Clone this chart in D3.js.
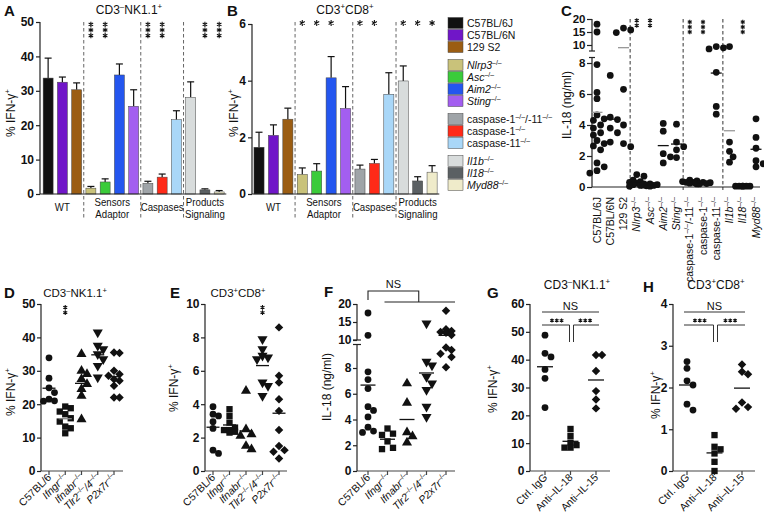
<!DOCTYPE html>
<html><head><meta charset="utf-8">
<script src="https://cdn.jsdelivr.net/npm/d3@7"></script>
<style>body{margin:0;background:#fff}svg{display:block}text{font-family:"Liberation Sans",Arial,Helvetica,sans-serif}</style>
</head><body><svg id="c" width="764" height="522"></svg>
<script>
// ---------------- DATA ----------------
const strainLabels = ["C57BL/6J","C57BL/6N","129 S2","_Nlrp3_^–/–^","_Asc_^–/–^","_Aim2_^–/–^","_Sting_^–/–^","caspase-1^–/–^/-11^–/–^","caspase-1^–/–^","caspase-11^–/–^","_Il1b_^–/–^","_Il18_^–/–^","_Myd88_^–/–^"];
const strainColors = ["#111111","#7016c8","#9b5d12","#c9c27a","#3acb3a","#2456ef","#a35ef0","#9fa4a8","#ff2a18","#a9d7f8","#d8dcdc","#5b6063","#efebca"];
const groupLabels = ["WT","Sensors|Adaptor","Caspases","Products|Signaling"];
const groupSizes = [3,4,3,3];
const nkMean = [33.7,32.5,30.3,1.7,3.5,34.6,25.5,3.1,4.9,21.6,28.1,1.2,0.6];
const nkErr  = [5.8,1.5,2.0,0.5,0.9,3.2,4.8,0.6,0.9,2.6,4.5,0.3,0.4];
const cd8Mean = [1.65,2.07,2.64,0.69,0.81,4.1,3.02,0.88,1.08,3.52,3.99,0.46,0.77];
const cd8Err  = [0.53,0.37,0.39,0.23,0.26,0.75,0.77,0.14,0.14,0.76,0.53,0.15,0.23];
const nkStars = [3,4,7,8,11,12];
const cd8Stars = [3,4,5,7,8,10,11,12];
const ticksA = [0,10,20,30,40,50];
const ticksB = [0,2,4,6];

const il18Strain = [
  [18,15,7.9,6.1,5.7,4.65,4.4,4.3,4.0,3.8,3.5,3.35,3.0,2.8,2.65,2.4,1.55,1.3,1.05,0.9],
  [7.2,4.5,4.35,3.8,3.5,2.9],
  [16.5,15.8,14.8,6.3,4.0,2.8,2.6],
  [0.8,0.7,0.45,0.35,0.3,0.25,0.2,0.15,0.1,0.05],
  [0.2,0.15,0.12,0.1,0.08,0.05],
  [4.1,3.6,2.15,1.95,1.55],
  [4.05,2.9,2.6,2.4,1.9],
  [0.45,0.4,0.35,0.3,0.3,0.25,0.2],
  [0.3,0.28,0.25,0.22,0.2],
  [9.4,8.9,8.5,7.4,5.2,4.7],
  [9.4,2.9,2.3,1.95,1.6],
  [0.05,0.05,0.05,0.05,0.05,0.05],
  [4.4,3.2,2.5,1.7,1.5,1.3]
];
const il18Stars = [[3,2],[4,2],[7,3],[8,3],[11,3]];
const ticksCLow = [0,2,4,6,8], ticksCUp = [10,15,20];

const genoLabels = ["C57BL/6","_Ifngr_^–/–^","_Ifnabr_^–/–^","_Tlr2_^–/–^_/4_^–/–^","_P2x7r_^–/–^"];
const dNK = [
  [33.9,27.8,24.9,23.5,21.5,21,20.9],
  [19.3,18.8,17.8,17,15.8,14.8,13.3,12.8,11.3],
  [35,30,29,27.5,26,24.5,22.5,15.5],
  [41.5,37.5,36.5,35,33.5,31.5,28],
  [35.5,35.3,30,29,28.5,27.5,27,25.5,22,22]
];
const eCD8 = [
  [3.85,3.4,3.3,2.95,2.55,1.25,1.05],
  [3.7,3.3,2.9,2.6,2.45,2.35,2.45,2.3],
  [4.8,2.5,2.2,2.1,1.5,1.3],
  [7.9,7.3,6.9,6.8,6.7,5.3,5.1,4.5],
  [8.6,5.7,5.3,4.3,3.6,2.45,1.5,1.25,1.15,0.75]
];
const fIL18 = [
  [17.5,11.3,7.7,7.1,6.4,5.0,4.7,4.2,3.4,3.1,3.0],
  [3.3,2.9,2.8,2.3,1.8,1.7],
  [6.8,5.3,3.0,2.7,2.2],
  [14.6,8.5,8.2,7.3,6.8,6.3,5.0,4.2],
  [18.1,13,12.5,12.2,12,11.4,9.6,9.4,9.1,8.85,8.05]
];
const ticksD = [0,10,20,30,40,50], ticksE = [0,2,4,6,8,10];
const ticksFLow = [0,2,4,6,8], ticksFUp = [10,15,20];

const abLabels = ["Ctrl. IgG","Anti–IL-18","Anti–IL-15"];
const gNK = [[48.8,42.3,41,36.5,33.3,22.8],[15.1,12.6,10.2,9.3,8.4,8.4],[41.7,41.7,35.9,28.7,25.7,22.5]];
const hCD8 = [[2.62,2.46,2.16,2.06,1.6,1.46],[0.86,0.58,0.52,0.42,0.22,0],[2.55,2.38,2.32,1.64,1.53,1.49]];
const ticksG = [0,10,20,30,40,50,60], ticksH = [0,1,2,3,4];

// ---------------- HELPERS ----------------
const FONT = '"Liberation Sans", Arial, Helvetica, sans-serif';
const svg = d3.select("#c");
const INK = "#111";
const fmt = d3.format("d");

function rich(parent, str, size, o = {}) {
  const t = parent.append("text").attr("font-size", size).attr("fill", o.fill || INK);
  if (o.anchor) t.attr("text-anchor", o.anchor);
  if (o.weight) t.attr("font-weight", o.weight);
  if (o.transform) t.attr("transform", o.transform); else t.attr("x", o.x || 0).attr("y", o.y || 0);
  let it = false, sup = false, dy = 0;
  str.split(/([_^|])/).forEach(p => {
    if (p === "_") { it = !it; return; }
    if (p === "^") { sup = !sup; dy += sup ? -0.38 * size : 0.38 * size; return; }
    if (!p) return;
    const ts = t.append("tspan").text(p);
    if (it) ts.attr("font-style", "italic");
    if (sup) ts.attr("font-size", (size * 0.66).toFixed(2));
    if (dy) { ts.attr("dy", dy.toFixed(2)); dy = 0; }
  });
  return t;
}
function styleAxis(ax, fs) {
  ax.attr("font-family", FONT).attr("font-size", fs);
  ax.select(".domain").remove();
  ax.selectAll(".tick line").attr("stroke", "#222").attr("stroke-width", 1.2);
  ax.selectAll(".tick text").attr("font-weight", "bold").attr("fill", INK);
}
function vline(g, x, y1, y2, col = "#222", w = 1.2) {
  g.append("line").attr("x1", x).attr("x2", x).attr("y1", y1).attr("y2", y2).attr("stroke", col).attr("stroke-width", w);
}
function hline(g, x1, x2, y, col = "#222", w = 1.2) {
  g.append("line").attr("x1", x1).attr("x2", x2).attr("y1", y).attr("y2", y).attr("stroke", col).attr("stroke-width", w);
}
function letter(t, x, y) { svg.append("text").attr("x", x).attr("y", y).attr("font-size", 15).attr("font-weight", "bold").attr("fill", INK).text(t); }
function star(g, cx, cy, r, w = 1.1) {
  let d = "";
  [90, 30, 150].forEach(a => {
    const c = Math.cos(a * Math.PI / 180) * r, s = Math.sin(a * Math.PI / 180) * r;
    d += `M${cx - c},${cy - s}L${cx + c},${cy + s}`;
  });
  g.append("path").attr("d", d).attr("stroke", INK).attr("stroke-width", w).attr("fill", "none");
}
function starsV(g, cx, cy, n, r, gap) { for (let k = 0; k < n; k++) star(g, cx, cy + (k - (n - 1) / 2) * gap, r); }
function starsH(g, cx, cy, n, r, gap) { for (let k = 0; k < n; k++) star(g, cx + (k - (n - 1) / 2) * gap, cy, r); }

function swarm(vals, cx, yf, r, maxK, dx) {
  const placed = [];
  const ks = [0]; for (let k = 1; k <= maxK; k++) ks.push(k, -k);
  vals.slice().sort((a, b) => b - a).forEach(v => {
    const yy = yf(v); let best = cx, bestD = -1;
    for (const k of ks) {
      const xx = cx + k * dx; let md = Infinity;
      placed.forEach(p => { md = Math.min(md, Math.hypot(p.x - xx, p.y - yy)); });
      if (md >= 2 * r) { best = xx; bestD = md; break; }
      if (md > bestD) { bestD = md; best = xx; }
    }
    placed.push({ x: best, y: yy });
  });
  return placed;
}
const SH = {
  circle: { d: d3.symbol(d3.symbolCircle, 36)(), r: "" },
  square: { d: d3.symbol(d3.symbolSquare, 40)(), r: "" },
  tri: { d: d3.symbol(d3.symbolTriangle, 44)(), r: "" },
  inv: { d: d3.symbol(d3.symbolTriangle, 44)(), r: " rotate(180)" },
  diamond: { d: d3.symbol(d3.symbolSquare, 36)(), r: " rotate(45)" }
};

// ---------------- BAR PANELS (A, B) ----------------
function barPanel(o) {
  const g = svg.append("g");
  const n = o.means.length;
  const x = d3.scaleBand().domain(d3.range(n)).range(o.xr).paddingInner(0.3).paddingOuter(0.15);
  const y = d3.scaleLinear().domain(o.yd).range(o.yr);
  const bw = x.bandwidth();
  let idx = 0; const seps = [], centers = [];
  groupSizes.forEach(k => {
    const a = x(idx), b = x(idx + k - 1) + bw; centers.push((a + b) / 2); idx += k;
    if (idx < n) seps.push((b + x(idx)) / 2);
  });
  g.selectAll(".sep").data(seps).join("line").attr("x1", d => d).attr("x2", d => d)
    .attr("y1", 22).attr("y2", 218).attr("stroke", "#666").attr("stroke-width", 1).attr("stroke-dasharray", "3.5,2.5");
  o.means.forEach((m, i) => {
    const cx = x(i) + bw / 2, yt = y(m + o.errs[i]);
    vline(g, cx, y(m), yt, "#111", 1.2);
    hline(g, cx - 3.5, cx + 3.5, yt, "#111", 1.2);
  });
  g.selectAll("rect.bar").data(o.means).join("rect").attr("class", "bar")
    .attr("x", (d, i) => x(i)).attr("width", bw).attr("y", d => y(d)).attr("height", d => y(0) - y(d))
    .attr("fill", (d, i) => strainColors[i]).attr("stroke", "#444").attr("stroke-width", 0.5);
  hline(g, o.axisX, o.xr[1], y(0));
  vline(g, o.axisX, y(0), y(o.yd[1]));
  const ax = g.append("g").attr("transform", `translate(${o.axisX},0)`)
    .call(d3.axisLeft(y).tickValues(o.ticks).tickFormat(fmt).tickSize(4).tickSizeOuter(0).tickPadding(2));
  styleAxis(ax, 12);
  groupLabels.forEach((lab, i) => {
    const lines = lab.split("|");
    lines.forEach((ln, j) => {
      const yy = lines.length === 1 ? 211 : 206 + j * 11.5;
      g.append("text").attr("transform", `translate(${centers[i]},${yy}) scale(0.88,1)`).attr("text-anchor", "middle")
        .attr("font-size", 11).attr("fill", INK).text(ln);
    });
  });
  o.stars.forEach(i => {
    const cx = x(i) + bw / 2;
    if (o.starRot) starsV(g, cx, 30, 3, 2.6, 5.6);
    else star(g, cx, 23, 2.9);
  });
  rich(g, o.title, 12, { x: o.titleX, y: 14, anchor: "middle" });
  rich(g, "% IFN-γ^+^", 12, { transform: `translate(${o.ylabX},113) rotate(-90)`, anchor: "middle" });
}
barPanel({ means: nkMean, errs: nkErr, xr: [41, 226.3], yd: [0, 50], yr: [194, 22], ticks: ticksA, axisX: 40,
  stars: nkStars, starRot: true, title: "CD3^–^NK1.1^+^", titleX: 129, ylabX: 15 });
barPanel({ means: cd8Mean, errs: cd8Err, xr: [251.8, 439.3], yd: [0, 6], yr: [194, 24], ticks: ticksB, axisX: 252,
  stars: cd8Stars, starRot: false, title: "CD3^+^CD8^+^", titleX: 345, ylabX: 238 });
letter("A", 4, 16); letter("B", 227, 16);

// legend
(function () {
  const g = svg.append("g");
  let gi = 0, cum = groupSizes[0];
  strainLabels.forEach((lab, i) => {
    if (i >= cum) { gi++; cum += groupSizes[gi]; }
    const cy = 23 + i * 12 + gi * 6;
    g.append("rect").attr("x", 448).attr("y", cy - 5.5).attr("width", 15).attr("height", 11)
      .attr("fill", strainColors[i]).attr("stroke", "#444").attr("stroke-width", 0.5);
    rich(g, lab, 10.5, { x: 467, y: cy + 4 });
  });
})();

// ---------------- DOT PANELS ----------------
function dots(g, data, x, yf, shapes, r, maxK, dx, mw, meanCols) {
  data.forEach((vals, i) => {
    const cx = x(i);
    const pts = swarm(vals, cx, yf, r, maxK, dx);
    const sh = shapes[i];
    g.selectAll(null).data(pts).join("path").attr("d", sh.d)
      .attr("transform", p => `translate(${p.x},${p.y})${sh.r}`).attr("fill", INK);
    const m = d3.mean(vals);
    hline(g, cx - mw / 2, cx + mw / 2, yf(m), meanCols ? meanCols[i] : INK, 1.3);
  });
}

// Panel C
(function () {
  const g = svg.append("g");
  const x = d3.scalePoint().domain(d3.range(il18Strain.length)).range([597, 756]);
  const low = d3.scaleLinear().domain([0, 8]).range([187, 63]);
  const up = d3.scaleLinear().domain([10, 20]).range([45, 19]);
  const yf = v => v > 8.45 ? up(v) : low(v);
  [2, 6, 9].forEach(i => {
    const xx = (x(i) + x(i + 1)) / 2;
    g.append("line").attr("x1", xx).attr("x2", xx).attr("y1", 19).attr("y2", 190)
      .attr("stroke", "#333").attr("stroke-width", 1).attr("stroke-dasharray", "3.5,2.5");
  });
  const ax = 592;
  vline(g, ax, 187, 57); vline(g, ax, 51, 19);
  hline(g, ax - 3, ax + 3, 51); hline(g, ax - 3, ax + 3, 57.5);
  hline(g, ax, 760, 187);
  const a1 = g.append("g").attr("transform", `translate(${ax},0)`).call(d3.axisLeft(low).tickValues(ticksCLow).tickFormat(fmt).tickSize(5).tickPadding(1.5));
  const a2 = g.append("g").attr("transform", `translate(${ax},0)`).call(d3.axisLeft(up).tickValues(ticksCUp).tickFormat(fmt).tickSize(5).tickPadding(1.5));
  styleAxis(a1, 11.5); styleAxis(a2, 11.5);
  const circ = il18Strain.map(() => SH.circle);
  const mc = il18Strain.map((d, i) => (i === 0 || i === 2 || i === 10) ? "#999" : INK);
  dots(g, il18Strain, x, yf, circ, 3.1, 2, 3.6, 11, mc);
  strainLabels.forEach((lab, i) => rich(g, lab, 10.5, { transform: `translate(${x(i) + 3.7},197) rotate(-90)`, anchor: "end" }));
  il18Stars.forEach(([i, n]) => starsV(g, x(i), n === 2 ? 23 : 27, n, 2.3, 5));
  rich(g, "IL-18 (ng/ml)", 12, { transform: "translate(571,105) rotate(-90)", anchor: "middle" });
})();
letter("C", 561, 16);

function scatterPanel(o) {
  const g = svg.append("g");
  const x = d3.scalePoint().domain(d3.range(o.data.length)).range(o.xr);
  const baseY = 471;
  hline(g, o.axisX, o.xEnd, baseY, "#444");
  x.domain().forEach(i => vline(g, x(i), baseY, baseY + 4, "#444"));
  if (o.broken) {
    const { low, up } = o.broken;
    vline(g, o.axisX, 471, 344.5); vline(g, o.axisX, 340, 304);
    hline(g, o.axisX - 4, o.axisX + 4, 340); hline(g, o.axisX - 4, o.axisX + 4, 344.5);
    const a1 = g.append("g").attr("transform", `translate(${o.axisX},0)`).call(d3.axisLeft(low).tickValues(o.ticks).tickFormat(fmt).tickSize(4).tickPadding(1.5));
    const a2 = g.append("g").attr("transform", `translate(${o.axisX},0)`).call(d3.axisLeft(up).tickValues(o.ticksUp).tickFormat(fmt).tickSize(4).tickPadding(1.5));
    styleAxis(a1, 12); styleAxis(a2, 12);
  } else {
    vline(g, o.axisX, o.y(0), o.y(o.ticks[o.ticks.length - 1]));
    const a = g.append("g").attr("transform", `translate(${o.axisX},0)`).call(d3.axisLeft(o.y).tickValues(o.ticks).tickFormat(fmt).tickSize(4).tickPadding(1.5));
    styleAxis(a, 12);
  }
  dots(g, o.data, x, o.yf || o.y, o.shapes, 3.3, 1, o.dx || 5.5, o.mw, o.meanCols);
  o.labels.forEach((lab, i) => rich(g, lab, 10.5, { transform: `translate(${x(i) + 3},478) rotate(-45)`, anchor: "end" }));
  if (o.star != null) starsV(g, x(o.star), 310, 2, 2.3, 5.2);
  if (o.title) rich(g, o.title, o.titleSize || 11.5, { x: o.titleX, y: o.titleY, anchor: "middle" });
  rich(g, o.ylab || "% IFN-γ^+^", 12, { transform: `translate(${o.ylabX},${o.ylabY || 390}) rotate(-90)`, anchor: "middle" });
  return { g, x };
}
const five = [SH.circle, SH.square, SH.tri, SH.inv, SH.diamond];
scatterPanel({ data: dNK, xr: [49, 114], y: d3.scaleLinear().domain([0, 50]).range([471, 304]), ticks: ticksD,
  axisX: 41, xEnd: 123, shapes: five, mw: 13, labels: genoLabels, star: 1, meanCols: [INK, "#888", INK, INK, INK],
  title: "CD3^–^NK1.1^+^", titleX: 75, titleY: 297, ylabX: 15, ylabY: 392 });
scatterPanel({ data: eCD8, xr: [213, 279], y: d3.scaleLinear().domain([0, 10]).range([471, 304]), ticks: ticksE,
  axisX: 205, xEnd: 287, shapes: five, mw: 13, labels: genoLabels, star: 3,
  title: "CD3^+^CD8^+^", titleX: 238, titleY: 297, ylabX: 178, ylabY: 388 });
(function () {
  const low = d3.scaleLinear().domain([0, 8]).range([471, 368]);
  const up = d3.scaleLinear().domain([10, 20]).range([340, 304]);
  const yf = v => v >= 10 ? up(v) : low(v);
  const { g, x } = scatterPanel({ data: fIL18, xr: [368, 446], broken: { low, up }, yf, ticks: ticksFLow, ticksUp: ticksFUp,
    axisX: 357, xEnd: 455, shapes: five, mw: 15, labels: genoLabels, dx: 5.5,
    ylab: "IL-18 (ng/ml)", ylabX: 331, ylabY: 387 });
  const midR = (x(1) + x(4)) / 2 + 2;
  g.append("path").attr("d", `M${x(0)},300 V291 H${midR} V302`).attr("fill", "none").attr("stroke", "#222").attr("stroke-width", 1.1);
  hline(g, x(1) - 3, x(4) + 9, 302, "#222", 1.1);
  g.append("text").attr("x", (x(0) + midR) / 2).attr("y", 288).attr("text-anchor", "middle").attr("font-size", 11).attr("fill", INK).text("NS");
})();

function abPanel(o) {
  const { g, x } = scatterPanel({ data: o.data, xr: o.xr, y: o.y, ticks: o.ticks, axisX: o.axisX, xEnd: o.xEnd,
    shapes: [SH.circle, SH.square, SH.diamond], mw: 16, labels: abLabels, dx: 6,
    title: o.title, titleSize: 12, titleX: o.titleX, titleY: 289, ylabX: o.ylabX, ylabY: o.ylabY });
  const x0 = x(0) - 3, x2 = x(2) + 3, mid = x(1) + 1;
  hline(g, x0, x2, 312, "#333", 1);
  g.append("text").attr("x", (x0 + x2) / 2).attr("y", 310).attr("text-anchor", "middle").attr("font-size", 11).attr("fill", INK).text("NS");
  g.append("path").attr("d", `M${x0},325 H${mid - 2} V342`).attr("fill", "none").attr("stroke", "#333").attr("stroke-width", 1);
  g.append("path").attr("d", `M${x2},325 H${mid + 2} V342`).attr("fill", "none").attr("stroke", "#333").attr("stroke-width", 1);
  [(x0 + mid) / 2, (mid + x2) / 2].forEach(cx => starsH(g, cx, 320.5, 3, 2.1, 4.8));
}
abPanel({ data: gNK, xr: [545, 596], y: d3.scaleLinear().domain([0, 60]).range([471, 304]), ticks: ticksG,
  axisX: 530, xEnd: 610, title: "CD3^–^NK1.1^+^", titleX: 577, ylabX: 497, ylabY: 389 });
abPanel({ data: hCD8, xr: [687, 742], y: d3.scaleLinear().domain([0, 4]).range([471, 304]), ticks: ticksH,
  axisX: 673, xEnd: 755, title: "CD3^+^CD8^+^", titleX: 716, ylabX: 660, ylabY: 395 });
letter("D", 4, 298); letter("E", 170, 298); letter("F", 324, 297); letter("G", 487, 298); letter("H", 643, 292);
</script></body></html>
